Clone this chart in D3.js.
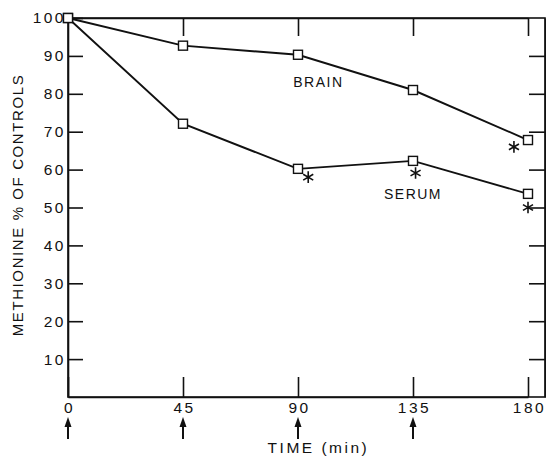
<!DOCTYPE html>
<meta charset="utf-8">
<style>
    body { margin: 0; background: #fff; }
    svg { display: block; }
    .axis path,
    .axis line {
        fill: none;
        stroke: #111;
        stroke-width: 1.6px;
    }
    .axis text {
        font-family: "Liberation Sans", Arial, sans-serif;
        font-size: 15.5px;
        letter-spacing: 2.5px;
        fill: #111;
    }
    .series {
        fill: none;
        stroke: #111;
        stroke-width: 1.9px;
    }
    .marker {
        fill: #fff;
        stroke: #111;
        stroke-width: 1.4px;
    }
    .label {
        font-family: "Liberation Sans", Arial, sans-serif;
        font-size: 14px;
        letter-spacing: 1.5px;
        fill: #111;
    }
</style>
<body>
<svg></svg>

<script src="https://d3js.org/d3.v7.min.js"></script>
<script type='text/javascript'>

    // data
    var times = [0, 45, 90, 135, 180];
    var brain = [100, 92.7, 90.3, 81.0, 67.8];
    var serum = [100, 72.1, 60.2, 62.3, 53.6];

    // significance stars (time, value)
    var starTimes = [94, 136, 174.5, 180];
    var starValues = [58, 59.1, 66, 50];

    // injection arrows under the time axis
    var arrowTimes = [0, 45, 90, 135];

    var xTicks = [0, 45, 90, 135, 180];
    var yTicks = [10, 20, 30, 40, 50, 60, 70, 80, 90, 100];
    var yFrameTicks = [10, 20, 30, 40, 50, 60, 70, 80, 90];

    var seriesLabels = [
        {text: 'BRAIN', t: 98, v: 82.8},
        {text: 'SERUM', t: 135, v: 53.3}
    ];

    var W = 546, H = 456;
    var margin = {top: 18, right: 1, bottom: 59, left: 68};
    var w = W - margin.left - margin.right,
        h = H - margin.top - margin.bottom;

    var svg = d3.select('svg')
        .attr('width', W)
        .attr('height', H)
        .append('g')
        .attr('transform', 'translate(' + margin.left + ',' + margin.top + ')');

    var x = d3.scaleLinear().domain([0, 180]).range([0, 460]);
    var y = d3.scaleLinear().domain([0, 100]).range([h, 0]);

    // frame
    svg.append('rect')
        .attr('x', 0)
        .attr('y', 0)
        .attr('width', w)
        .attr('height', h)
        .attr('fill', 'none')
        .attr('stroke', '#111')
        .attr('stroke-width', 1.6);

    svg.append('g')
        .attr('class', 'y axis')
        .call(d3.axisLeft(y).tickValues(yTicks).tickSizeInner(-15).tickSizeOuter(0).tickPadding(4));

    svg.append('g')
        .attr('class', 'y axis')
        .attr('transform', 'translate(' + w + ',0)')
        .call(d3.axisRight(y).tickValues(yFrameTicks).tickSizeInner(-16).tickSizeOuter(0).tickFormat(''));

    svg.append('g')
        .attr('class', 'x axis')
        .attr('transform', 'translate(0,' + h + ')')
        .call(d3.axisBottom(x).tickValues(xTicks).tickSizeInner(-20).tickSizeOuter(0).tickPadding(5));

    svg.append('g')
        .attr('class', 'x axis')
        .call(d3.axisTop(x).tickValues(xTicks.slice(1)).tickSizeInner(-18).tickSizeOuter(0).tickFormat(''));

    // shift labels so letter-spacing doesn't push them off centre
    svg.selectAll('.x.axis text').attr('dx', '1px');
    svg.selectAll('.y.axis text').attr('dx', '2px');

    var line = d3.line()
        .x(function(d) { return x(d.t); })
        .y(function(d) { return y(d.v); });

    [brain, serum].forEach(function(vals) {
        var pts = times.map(function(t, i) { return {t: t, v: vals[i]}; });
        svg.append('path')
            .datum(pts)
            .attr('class', 'series')
            .attr('d', line);
        svg.append('g')
            .selectAll('rect')
            .data(pts)
            .enter().append('rect')
            .attr('class', 'marker')
            .attr('x', function(d) { return x(d.t) - 4.5; })
            .attr('y', function(d) { return y(d.v) - 4.5; })
            .attr('width', 9)
            .attr('height', 9);
    });

    // stars
    var star = d3.symbol().type(d3.symbolAsterisk).size(95);
    svg.append('g')
        .selectAll('path')
        .data(starTimes)
        .enter().append('path')
        .attr('d', star)
        .attr('transform', function(d, i) { return 'translate(' + x(d) + ',' + y(starValues[i]) + ')'; })
        .attr('fill', 'none')
        .attr('stroke', '#111')
        .attr('stroke-width', 1.6);

    svg.selectAll('.serieslabel')
        .data(seriesLabels)
        .enter().append('text')
        .attr('class', 'label serieslabel')
        .attr('x', function(d) { return x(d.t); })
        .attr('y', function(d) { return y(d.v); })
        .attr('text-anchor', 'middle')
        .attr('dominant-baseline', 'middle')
        .text(function(d) { return d.text; });

    // arrows
    var arrows = svg.append('g')
        .selectAll('g')
        .data(arrowTimes)
        .enter().append('g')
        .attr('transform', function(d) { return 'translate(' + x(d) + ',' + (h + 20) + ')'; });
    arrows.append('line')
        .attr('x1', 0).attr('x2', 0)
        .attr('y1', 6).attr('y2', 22)
        .attr('stroke', '#111')
        .attr('stroke-width', 2);
    arrows.append('path')
        .attr('d', 'M0,0L-3.5,10L3.5,10Z')
        .attr('fill', '#111');

    svg.append('text')
        .attr('class', 'label')
        .attr('x', x(98))
        .attr('y', h + 52)
        .attr('text-anchor', 'middle')
        .attr('dominant-baseline', 'middle')
        .style('font-size', '15.5px')
        .style('letter-spacing', '2.5px')
        .text('TIME (min)');

    svg.append('text')
        .attr('class', 'label')
        .attr('transform', 'translate(' + (19 - margin.left) + ',' + (205 - margin.top) + ')rotate(-90)')
        .attr('text-anchor', 'middle')
        .attr('dominant-baseline', 'middle')
        .style('font-size', '15px')
        .style('letter-spacing', '1.6px')
        .text('METHIONINE % OF CONTROLS');

</script>
